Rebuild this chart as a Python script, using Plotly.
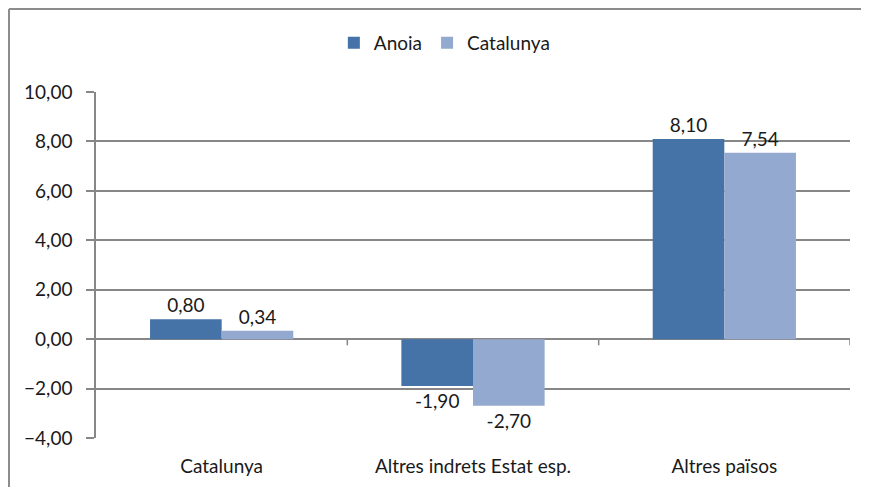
import plotly.graph_objects as go

# Data
categories = ["Catalunya", "Altres indrets Estat esp.", "Altres països"]
anoia = [0.80, -1.90, 8.10]
catalunya = [0.34, -2.70, 7.54]
y_ticks = [-4, -2, 0, 2, 4, 6, 8, 10]

GRID = "#878787"
BORDER = "#8c8c8c"
FONT = dict(family="Lato, 'Open Sans', sans-serif", size=19, color="#1a1a1a")

fig = go.Figure()
fig.add_trace(go.Bar(
    x=categories, y=anoia, name="Anoia",
    marker=dict(color="#4572A7", line=dict(width=0)),
    texttemplate="%{y:.2f}", textposition="outside",
    textfont=FONT, cliponaxis=False
))
fig.add_trace(go.Bar(
    x=categories, y=catalunya, name="Catalunya",
    marker=dict(color="#93A9CF", line=dict(width=0)),
    texttemplate="%{y:.2f}", textposition="outside",
    textfont=FONT, cliponaxis=False
))

# page body adds 8px around the figure; margins compensate for it
fig.update_layout(
    width=853, height=479,
    margin=dict(l=88, r=11, t=84, b=49),
    paper_bgcolor="white", plot_bgcolor="white",
    font=FONT,
    separators=",.",
    barmode="group", bargap=0.43, bargroupgap=0,
    showlegend=True,
    legend=dict(orientation="h", x=0.462, xanchor="center", y=1.142, yanchor="middle",
                font=FONT, traceorder="normal", itemwidth=30),
)

fig.update_yaxes(
    range=[-4, 10], tickvals=y_ticks, tickformat=".2f",
    showgrid=True, gridcolor=GRID, gridwidth=1.5,
    zeroline=True, zerolinecolor=GRID, zerolinewidth=1.5,
    showline=True, linecolor=GRID, linewidth=1.5,
    ticks="outside", ticklen=8, tickcolor=GRID, tickwidth=1.5,
    tickfont=FONT, ticklabelstandoff=10,
)
fig.update_xaxes(
    range=[-0.5, 2.5], showgrid=False, zeroline=False, showline=False,
    ticks="", tickfont=FONT, ticklabelstandoff=15,
)

# small tick marks on the zero line between categories
for xb in [0.5, 1.5, 2.5]:
    fig.add_shape(type="line", xref="x", yref="y", x0=xb, x1=xb, y0=0, y1=-0.25,
                  line=dict(color=GRID, width=1.5))

# outer chart border: only the left and top edges show in the picture
fig.add_shape(type="line", xref="paper", yref="paper",
              x0=-0.1154, x1=-0.1154, y0=-0.3, y1=1.2399,
              line=dict(color=BORDER, width=2), layer="below")
fig.add_shape(type="line", xref="paper", yref="paper",
              x0=-0.1154, x1=1.2, y0=1.2399, y1=1.2399,
              line=dict(color=BORDER, width=2), layer="below")

fig.write_html("out.html")
